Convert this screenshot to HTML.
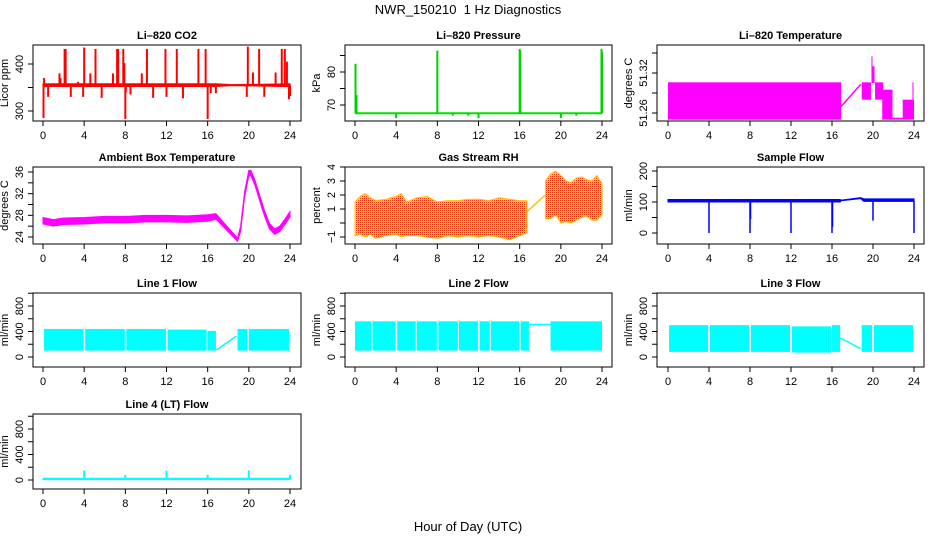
<!DOCTYPE html>
<html><head><meta charset="utf-8"><style>
html,body{margin:0;padding:0;background:#fff;}
svg{display:block;font-family:"Liberation Sans",Arial,sans-serif;}
</style></head><body>
<svg id="chart" width="936" height="540" viewBox="0 0 936 540" xmlns="http://www.w3.org/2000/svg">
<defs>
<pattern id="rhpat" width="2" height="2" patternUnits="userSpaceOnUse">
<rect width="2" height="2" fill="#FFE800"/><rect width="1" height="1" fill="#FF3000"/>
</pattern>
</defs>
<text x="468" y="14" text-anchor="middle" font-size="13">NWR_150210&#160; 1 Hz Diagnostics</text>
<text x="468" y="531" text-anchor="middle" font-size="13">Hour of Day (UTC)</text>
</svg>
<script>
// ---- data arrays ----
const xTicks = [0,4,8,12,16,20,24];
// CO2
const co2T = [0,16.8,18.3,24];
const co2Lo = [352,352,354,352];
const co2Hi = [358,358,356,358];
const co2SpikeT = [0.05,0.1,0.5,1.6,1.7,2.1,2.2,2.7,3.4,3.9,4.0,4.6,5.1,5.7,6.8,7.2,7.3,7.8,7.9,8.0,8.05,8.5,9.6,10.1,10.7,11.9,12.0,13.0,13.6,15.1,15.8,16.0,16.3,16.8,19.8,19.9,20.4,21.0,21.5,22.6,23.2,23.5,23.7,23.9,24.0];
const co2SpikeV = [285,370,330,380,370,432,432,330,362,330,435,380,432,328,380,432,432,432,402,283,340,335,380,432,328,432,330,432,327,432,432,283,338,338,330,437,382,432,330,382,432,432,405,325,332];
// Pressure
const presT = [0,24];
const presV = [67.5,67.5];
const presSpikeT = [0.05,0.15,8.0,16.0,16.05,23.95,24.0];
const presSpikeV = [82.5,73,86.5,87,86.5,87,86];
const presDipT = [4,12,20,9.5,11,21.5];
const presDipV = [66,66,66,66.8,66.8,66.8];
// Li-820 temperature
const tempBlkStart = [0,18.9,19.85,19.95,20.2,20.9,21.9,22.9,23.85];
const tempBlkEnd = [16.9,19.8,19.95,20.15,21.0,21.9,23.0,24.0,23.95];
const tempBlkLo = [51.25,51.28,51.305,51.305,51.28,51.25,51.25,51.25,51.28];
const tempBlkHi = [51.306,51.306,51.345,51.33,51.306,51.295,51.253,51.28,51.306];
const tempLinkT = [16.9,18.8];
const tempLinkV = [51.27,51.303];
// Ambient box temperature
const ambT = [0,1,2,4,6,8,10,12,14,16,16.8,18.9,19.2,19.6,20,20.2,20.6,21,21.5,22,22.5,23,23.5,24];
const ambMid = [27,26.6,26.9,27,27.2,27.2,27.4,27.4,27.3,27.5,27.8,23.5,25.5,32,35.8,35.8,34,31.5,28.5,26,25,25.5,26.8,28.2];
const ambHalf = [0.6,0.6,0.6,0.6,0.6,0.6,0.6,0.6,0.6,0.6,0.5,0.3,0.5,0.5,0.5,0.5,0.5,0.5,0.5,0.5,0.5,0.5,0.5,0.5];
// Gas stream RH
const rh1T = [0,0.5,1,1.5,2,3,4,4.5,5,6,7,8,9,10,11,12,13,14,15,16,16.7];
const rh1Hi = [1.5,1.9,2.1,1.8,1.6,1.7,1.9,2.1,1.5,1.8,1.9,1.5,1.6,1.6,1.7,1.7,1.6,1.8,1.7,1.6,1.6];
const rh1Lo = [-0.9,-0.8,-1.0,-0.8,-1.1,-0.9,-0.8,-1.0,-0.9,-0.9,-1.0,-1.1,-0.9,-1.0,-0.9,-1.0,-0.9,-1.0,-1.2,-0.9,-0.7];
const rhLinkT = [16.7,18.5];
const rhLinkV = [0.8,2.0];
const rh2T = [18.5,19,19.5,20,20.5,21,21.5,22,22.5,23,23.5,24];
const rh2Hi = [3.0,3.5,3.7,3.4,3.0,2.9,3.2,3.3,3.1,3.0,3.4,2.8];
const rh2Lo = [0.3,0.3,0.6,0.0,0.1,0.0,0.2,0.4,0.5,0.2,0.2,0.6];
// Sample flow
const sfT = [0,16.8,16.9,18.8,19.1,24];
const sfLo = [100,100,104,111,102,102];
const sfHi = [108,108,106,114,110,110];
const sfDipT = [4,8,8.05,12,16,16.05,20,24];
const sfDipV = [0,0,45,0,0,20,40,0];
// Line 1
const l1Start = [0.1,4.1,8.1,12.1,16.0,18.9,20.0,23.95];
const l1End = [3.95,7.95,11.95,15.9,16.8,19.85,23.9,24.05];
const l1Lo = [100,100,100,100,100,100,100,260];
const l1Hi = [440,440,440,430,410,440,440,350];
const l1LinkT = [16.85,18.8];
const l1LinkV = [110,330];
// Line 2
const l2Start = [0,1.7,4.1,6.0,8.1,10.1,12.1,13.2,16.1,19.0];
const l2End = [1.6,3.95,5.9,7.95,10.0,11.95,13.1,15.95,16.9,24.0];
const l2Lo = [100,100,100,100,100,100,100,100,100,100];
const l2Hi = [560,560,560,560,560,560,560,560,560,560];
const l2LinkT = [16.9,19.0];
const l2LinkV = [510,510];
// Line 3
const l3Start = [0.1,4.1,8.1,12.1,16.0,18.9,20.1];
const l3End = [3.9,7.9,11.9,15.9,16.8,19.9,23.9];
const l3Lo = [80,80,80,70,80,80,80];
const l3Hi = [500,500,500,480,500,500,500];
const l3LinkT = [16.8,18.8];
const l3LinkV = [300,130];
// Line 4
const l4T = [0,24];
const l4Lo = [5,5];
const l4Hi = [28,28];
const l4SpikeT = [4,12,20,8,16,24];
const l4SpikeV = [150,150,150,80,80,80];

// ---- layout ----
const NS = "http://www.w3.org/2000/svg";
const svg = document.getElementById('chart');
const colBox = [[33,301],[345,612],[657,924]];
const colX = [[43,290],[355,602],[668,914]];
const rowBox = [[45,121],[167,244],[293,367],[414,489]];

function mk(tag, attrs, parent){
  const el = document.createElementNS(NS, tag);
  for (const k in attrs) el.setAttribute(k, attrs[k]);
  (parent||svg).appendChild(el);
  return el;
}

function panel(cfg){
  const [bl,br] = colBox[cfg.col], [bt,bb] = rowBox[cfg.row];
  const [xa,xb] = colX[cfg.col];
  const sx = t => xa + (xb-xa)*t/24;
  const sy = v => cfg.yp[0] + (cfg.yp[1]-cfg.yp[0])*(v-cfg.yv[0])/(cfg.yv[1]-cfg.yv[0]);
  const g = mk('g', {});
  
  
  const clipId = 'clip-' + cfg.name;
  const cp = mk('clipPath', {id: clipId}, g);
  mk('rect', {x: bl, y: bt, width: br-bl, height: bb-bt}, cp);
  const plot = mk('g', {'clip-path': 'url(#'+clipId+')'}, g);
  
  
  cfg.draw(plot, sx, sy);
  const box = mk('rect', {x: bl, y: bt, width: br-bl, height: bb-bt, fill: 'none', stroke: '#000', 'stroke-width': 1}, g);
  
  
  const title = mk('text', {x: (bl+br)/2, y: bt-6, 'text-anchor': 'middle', 'font-size': 11, 'font-weight': 'bold'}, g);
  title.textContent = cfg.title;
  
  
  const xax = mk('g', {}, g);
  
  
  mk('line', {x1: sx(0), x2: sx(24), y1: bb, y2: bb, stroke: '#000'}, xax);
  xTicks.forEach(t => {
    mk('line', {x1: sx(t), x2: sx(t), y1: bb, y2: bb+5, stroke: '#000'}, xax);
    if (cfg.xlab) {
      const tx = mk('text', {x: sx(t), y: bb+18, 'text-anchor': 'middle', 'font-size': 11}, xax);
      tx.textContent = t;
    }
  });
  const yax = mk('g', {}, g);
  
  
  const yt = cfg.yticks;
  mk('line', {x1: bl, x2: bl, y1: sy(yt[0]), y2: sy(yt[yt.length-1]), stroke: '#000'}, yax);
  yt.forEach(v => {
    mk('line', {x1: bl-5, x2: bl, y1: sy(v), y2: sy(v), stroke: '#000'}, yax);
  });
  cfg.ylabels.forEach(v => {
    const x = bl-10, y = sy(v);
    const tx = mk('text', {x: x, y: y, 'text-anchor': 'middle', 'font-size': 11, transform: 'rotate(-90 '+x+' '+y+')'}, yax);
    tx.textContent = String(v).replace('-', '\u2212');
  });
  const yx = bl-25, yy = (bt+bb)/2;
  const yl = mk('text', {x: yx, y: yy, 'text-anchor': 'middle', 'font-size': 11, transform: 'rotate(-90 '+yx+' '+yy+')'}, g);
  yl.textContent = cfg.ylab;
  
  
}

function band(p, sx, sy, T, lo, hi, fill){
  let pts = T.map((t,i)=>sx(t)+','+sy(hi[i]));
  pts = pts.concat(T.map((t,i)=>sx(t)+','+sy(lo[i])).reverse());
  return mk('polygon', {points: pts.join(' '), fill: fill, stroke: fill, 'stroke-width': 1}, p);
}
function line(p, sx, sy, T, V, col, w){
  return mk('polyline', {points: T.map((t,i)=>sx(t)+','+sy(V[i])).join(' '), fill: 'none', stroke: col, 'stroke-width': w||1.5}, p);
}
function spikes(p, sx, sy, T, V, base, col, w){
  T.forEach((t,i)=>{
    mk('line', {x1: sx(t), x2: sx(t), y1: sy(base), y2: sy(V[i]), stroke: col, 'stroke-width': w||2}, p);
  });
}
function blocks(p, sx, sy, S, E, lo, hi, col){
  S.forEach((s,i)=>{
    mk('rect', {x: sx(s), y: sy(hi[i]), width: Math.max(1, sx(E[i])-sx(s)), height: sy(lo[i])-sy(hi[i]), fill: col}, p);
  });
}

panel({name:'co2', title:'Li\u2013820 CO2', col:0, row:0, yv:[300,400], yp:[111,64], yticks:[300,350,400], ylabels:[300,400], ylab:'Licor ppm', xlab:true,
  draw:(p,sx,sy)=>{ band(p,sx,sy,co2T,co2Lo,co2Hi,'#FF0000'); spikes(p,sx,sy,co2SpikeT,co2SpikeV,355,'#FF0000',2); }});
panel({name:'pressure', title:'Li\u2013820 Pressure', col:1, row:0, yv:[70,80], yp:[105,72], yticks:[70,75,80,85], ylabels:[70,80], ylab:'kPa', xlab:true,
  draw:(p,sx,sy)=>{ line(p,sx,sy,presT,presV,'#00E000',2); spikes(p,sx,sy,presSpikeT,presSpikeV,67.5,'#00D000',2); spikes(p,sx,sy,presDipT,presDipV,67.5,'#00D000',2); }});
panel({name:'li820-temperature', title:'Li\u2013820 Temperature', col:2, row:0, yv:[51.26,51.32], yp:[113,73], yticks:[51.26,51.29,51.32,51.35], ylabels:[51.26,51.32], ylab:'degrees C', xlab:true,
  draw:(p,sx,sy)=>{ blocks(p,sx,sy,tempBlkStart,tempBlkEnd,tempBlkLo,tempBlkHi,'#FF00FF'); line(p,sx,sy,tempLinkT,tempLinkV,'#FF00FF',1.5); }});
panel({name:'ambient-temperature', title:'Ambient Box Temperature', col:0, row:1, yv:[24,36], yp:[237,172], yticks:[24,26,28,30,32,34,36], ylabels:[24,28,32,36], ylab:'degrees C', xlab:true,
  draw:(p,sx,sy)=>{ band(p,sx,sy,ambT,ambMid.map((m,i)=>m-ambHalf[i]),ambMid.map((m,i)=>m+ambHalf[i]),'#FF00FF'); }});
panel({name:'gas-stream-rh', title:'Gas Stream RH', col:1, row:1, yv:[-1,4], yp:[237,167], yticks:[-1,0,1,2,3,4], ylabels:[-1,1,2,3,4], ylab:'percent', xlab:true,
  draw:(p,sx,sy)=>{ band(p,sx,sy,rh1T,rh1Lo,rh1Hi,'url(#rhpat)').setAttribute('stroke','#FFC000'); line(p,sx,sy,rhLinkT,rhLinkV,'#FFC000',1.5); band(p,sx,sy,rh2T,rh2Lo,rh2Hi,'url(#rhpat)').setAttribute('stroke','#FFC000'); }});
panel({name:'sample-flow', title:'Sample Flow', col:2, row:1, yv:[0,200], yp:[233,171], yticks:[0,50,100,150,200], ylabels:[0,100,200], ylab:'ml/min', xlab:true,
  draw:(p,sx,sy)=>{ band(p,sx,sy,sfT,sfLo,sfHi,'#0000FF'); spikes(p,sx,sy,sfDipT,sfDipV,104,'#0000FF',1.5); }});
const flowTicks = [0,200,400,600,800,1000];
panel({name:'line-1-flow', title:'Line 1 Flow', col:0, row:2, yv:[0,800], yp:[357,306], yticks:flowTicks, ylabels:[0,400,800], ylab:'ml/min', xlab:true,
  draw:(p,sx,sy)=>{ blocks(p,sx,sy,l1Start,l1End,l1Lo,l1Hi,'#00FFFF'); line(p,sx,sy,l1LinkT,l1LinkV,'#00FFFF',1.5); }});
panel({name:'line-2-flow', title:'Line 2 Flow', col:1, row:2, yv:[0,800], yp:[357,306], yticks:flowTicks, ylabels:[0,400,800], ylab:'ml/min', xlab:true,
  draw:(p,sx,sy)=>{ blocks(p,sx,sy,l2Start,l2End,l2Lo,l2Hi,'#00FFFF'); line(p,sx,sy,l2LinkT,l2LinkV,'#00FFFF',1.5); }});
panel({name:'line-3-flow', title:'Line 3 Flow', col:2, row:2, yv:[0,800], yp:[357,306], yticks:flowTicks, ylabels:[0,400,800], ylab:'ml/min', xlab:true,
  draw:(p,sx,sy)=>{ blocks(p,sx,sy,l3Start,l3End,l3Lo,l3Hi,'#00FFFF'); line(p,sx,sy,l3LinkT,l3LinkV,'#00FFFF',1.5); }});
panel({name:'line-4-flow', title:'Line 4 (LT) Flow', col:0, row:3, yv:[0,800], yp:[480,429], yticks:flowTicks, ylabels:[0,400,800], ylab:'ml/min', xlab:true,
  draw:(p,sx,sy)=>{ band(p,sx,sy,l4T,l4Lo,l4Hi,'#00FFFF'); spikes(p,sx,sy,l4SpikeT,l4SpikeV,15,'#00FFFF',2); }});
</script>
</body></html>
